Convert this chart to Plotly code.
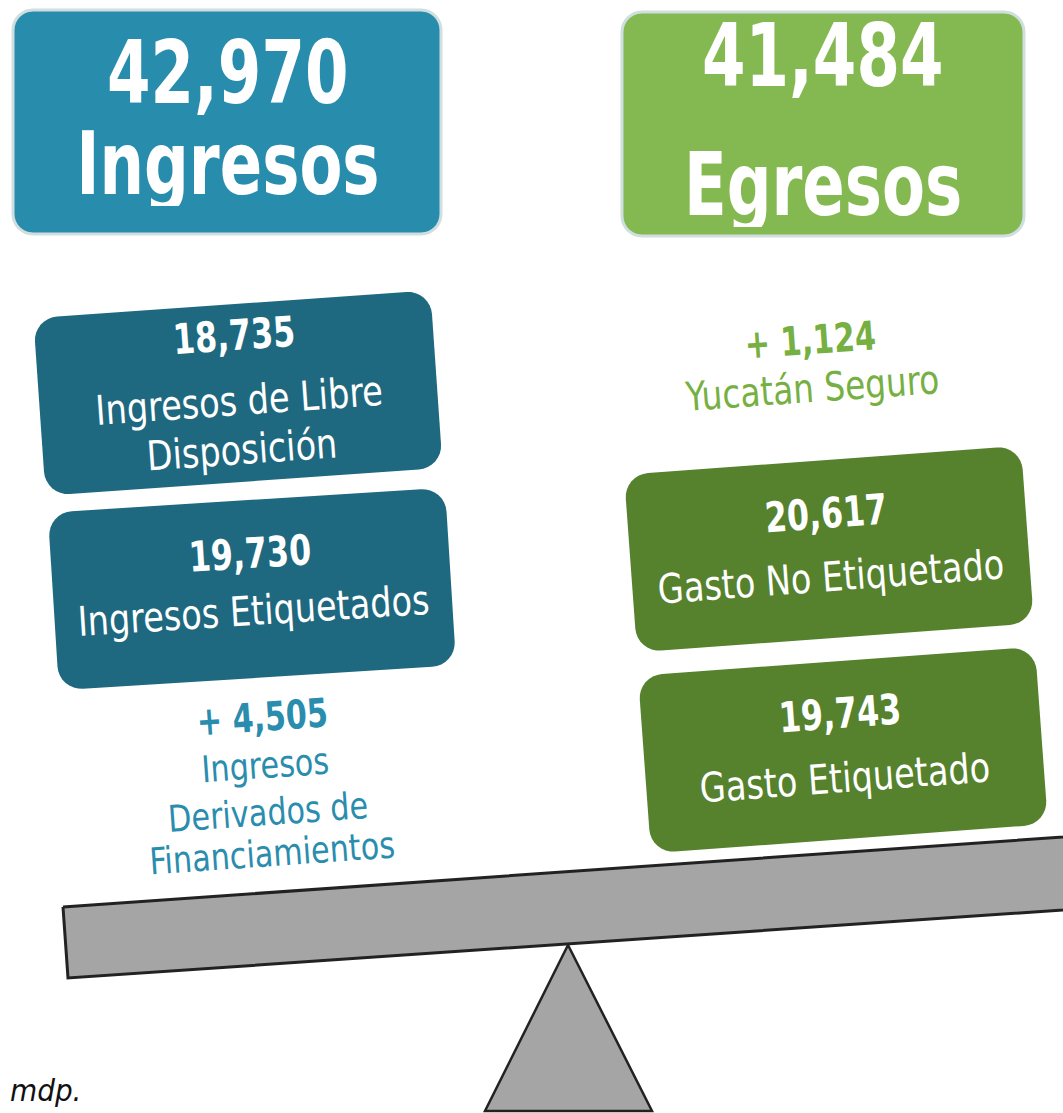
import math
import plotly.graph_objects as go

# totals
total_labels = ["Ingresos", "Egresos"]
total_values = ["42,970", "41,484"]

# detail boxes
ing_values = ["18,735", "19,730"]
ing_labels = [["Ingresos de Libre", "Disposición"], ["Ingresos Etiquetados"]]
egr_values = ["20,617", "19,743"]
egr_labels = [["Gasto No Etiquetado"], ["Gasto Etiquetado"]]

# extras
ing_extra_value = "+ 4,505"
ing_extra_label = ["Ingresos", "Derivados de", "Financiamientos"]
egr_extra_value = "+ 1,124"
egr_extra_label = ["Yucatán Seguro"]
unit_note = "mdp."

W, H = 1063, 1113
FONT = "DejaVu Sans Condensed, Liberation Sans Narrow, sans-serif"

BLUE = "#288DAD"
GREEN = "#84B850"
DARK_BLUE = "#1F6980"
DARK_GREEN = "#56822E"
BLUE_TXT = "#2A8DAE"
GREEN_TXT = "#76B043"
GRAY = "#A5A5A5"

fig = go.Figure()
shapes = []
annots = []


def rot(cx, cy, dx, dy, ang):
    t = math.radians(ang)
    return (cx + dx * math.cos(t) + dy * math.sin(t),
            cy - dx * math.sin(t) + dy * math.cos(t))


def rounded_box(cx, cy, w, h, r, ang, color, line=None):
    pts = []
    corners = [(w / 2 - r, -h / 2 + r, -90), (w / 2 - r, h / 2 - r, 0),
               (-w / 2 + r, h / 2 - r, 90), (-w / 2 + r, -h / 2 + r, 180)]
    for ccx, ccy, a0 in corners:
        for k in range(9):
            a = math.radians(a0 + k * 90 / 8)
            pts.append(rot(cx, cy, ccx + r * math.cos(a), ccy + r * math.sin(a), ang))
    path = "M " + " L ".join(f"{x:.1f},{y:.1f}" for x, y in pts) + " Z"
    shapes.append(dict(type="path", path=path, xref="x", yref="y",
                       fillcolor=color, layer="below",
                       line=dict(color=line or color, width=3 if line else 0)))


def txt(x, y, s, size, color="white", bold=False, ang=0, height=None):
    if bold:
        s = "<b>" + s + "</b>"
    a = dict(x=x, y=y, xref="x", yref="y", text=s, showarrow=False,
             textangle=-ang, xanchor="center", yanchor="middle",
             font=dict(family=FONT, size=size, color=color))
    if height:
        a["height"] = height
    annots.append(a)


# top total boxes
rounded_box(227, 122, 428, 224, 20, 0, BLUE, line="#CFDEDE")
txt(228, 72, total_values[0], 88, bold=True, height=86)
txt(228, 163, total_labels[0], 88, bold=True, height=86)
rounded_box(823, 124, 402, 224, 20, 0, GREEN, line="#CFDEDE")
txt(823, 55, total_values[1], 88, bold=True, height=86)
txt(823, 184, total_labels[1], 88, bold=True, height=86)

# detail boxes: (center x, center y, angle, colour, value, label lines, offsets)
boxes = [
    (238, 393, 4.0, DARK_BLUE, ing_values[0], ing_labels[0], -58, [8, 57]),
    (252, 589, 3.6, DARK_BLUE, ing_values[1], ing_labels[1], -36, [22]),
    (829, 549, 4.2, DARK_GREEN, egr_values[0], egr_labels[0], -36, [28]),
    (843, 750, 4.2, DARK_GREEN, egr_values[1], egr_labels[1], -37, [28]),
]
for cx, cy, ang, col, val, lab, vdy, ldy in boxes:
    rounded_box(cx, cy, 398, 178, 24, ang, col)
    x, y = rot(cx, cy, 0, vdy, ang)
    txt(x, y, val, 42, bold=True, ang=ang)
    for line, dy in zip(lab, ldy):
        x, y = rot(cx, cy, 0, dy, ang)
        txt(x, y, line, 41, ang=ang)

# extra amounts
txt(262, 717, ing_extra_value, 40, BLUE_TXT, bold=True, ang=4)
for line, (x, y) in zip(ing_extra_label, [(265, 765), (268, 812), (272, 853)]):
    txt(x, y, line, 37, BLUE_TXT, ang=4)
txt(810, 340, egr_extra_value, 40, GREEN_TXT, bold=True, ang=4)
txt(812, 388, egr_extra_label[0], 40, GREEN_TXT, ang=4)

# balance beam and fulcrum
fig.add_trace(go.Scatter(x=[63, 1110, 1110, 68, 63], y=[907, 833.7, 906.8, 978, 907],
                         mode="lines", fill="toself", fillcolor=GRAY,
                         line=dict(color="#222222", width=3), hoverinfo="skip"))
fig.add_trace(go.Scatter(x=[568, 652, 485, 568], y=[945, 1111, 1111, 945],
                         mode="lines", fill="toself", fillcolor=GRAY,
                         line=dict(color="#222222", width=2.5), hoverinfo="skip"))

annots.append(dict(x=8, y=1090, xref="x", yref="y", text="<i>" + unit_note + "</i>",
                   showarrow=False, xanchor="left", yanchor="middle",
                   font=dict(family=FONT, size=31, color="#111111")))

fig.update_layout(
    width=W, height=H, margin=dict(l=0, r=0, t=0, b=0),
    paper_bgcolor="white", plot_bgcolor="white", showlegend=False,
    shapes=shapes, annotations=annots,
    xaxis=dict(range=[0, W], visible=False, fixedrange=True),
    yaxis=dict(range=[H, 0], visible=False, fixedrange=True),
)

# squeeze the text horizontally to imitate the condensed typeface
squeeze = """
document.body.style.margin = '0';
var gd = document.getElementById('{plot_id}');
gd.querySelectorAll('text.annotation-text').forEach(function(t) {
  if (t.querySelector('tspan[style*="italic"]')) return;
  var bold = t.querySelector('tspan[style*="bold"]') !== null;
  var big = parseFloat(t.style.fontSize) > 60;
  var s = bold ? (big ? 0.79 : 0.84) : 0.91;
  var b = t.getBBox();
  var cx = b.x + b.width / 2;
  var tr = t.getAttribute('transform') || '';
  t.setAttribute('transform', tr + ' translate(' + cx + ',0) scale(' + s + ',1) translate(' + (-cx) + ',0)');
});
"""
fig.write_html("out.html", post_script=squeeze, config={"displayModeBar": False})
